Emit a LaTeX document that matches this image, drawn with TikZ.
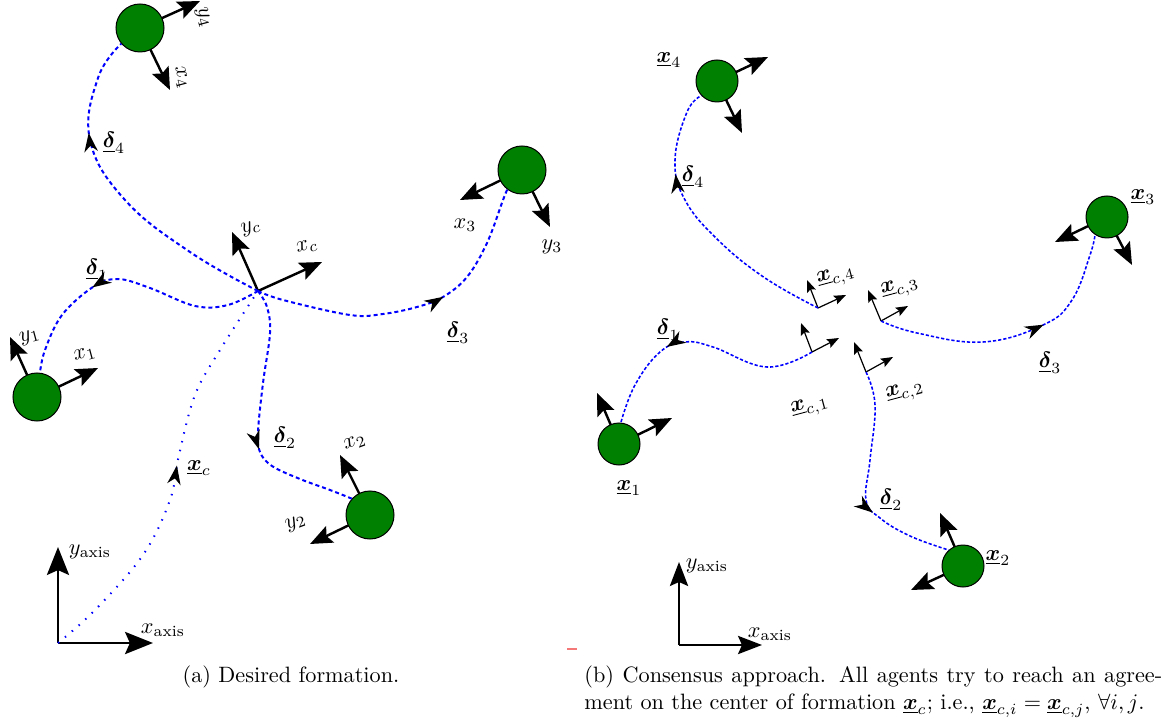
\documentclass[tikz,border=0pt]{standalone}
\usepackage{amsmath,bm}
\usetikzlibrary{arrows.meta,decorations.markings}
\definecolor{agentgreen}{RGB}{0,128,0}
\definecolor{markred}{RGB}{245,120,120}
\newcommand{\ubx}{\underline{\bm{x}}}
\newcommand{\ubd}{\underline{\bm{\delta}}}
\begin{document}
\begin{tikzpicture}[x=0.45pt,y=-0.45pt,
 agent/.style={circle,fill=agentgreen,draw=black,line width=0.45pt,minimum size=21.6pt,inner sep=0pt},
 agentb/.style={agent,minimum size=18.9pt},
 bigax/.style={line width=0.9pt,-{Stealth[length=12.6pt,width=10pt,inset=2.2pt]}},
 axb/.style={line width=0.9pt,-{Stealth[length=10.8pt,width=8.2pt,inset=1.8pt]}},
 agarr/.style={line width=1.1pt,-{Stealth[length=10pt,width=8.2pt,inset=1.8pt]}},
 smallarr/.style={line width=0.55pt,-{Stealth[length=5.4pt,width=4.2pt,inset=0.9pt]}},
 traj/.style={blue,line width=0.9pt,dash pattern=on 1.8pt off 1.35pt},
 trajb/.style={blue,line width=0.7pt,dash pattern=on 1.45pt off 0.9pt},
 centerpath/.style={blue,line width=0.9pt,dash pattern=on 0.65pt off 3.4pt},
 midarr/.style={postaction={decorate,decoration={markings,mark=at position #1 with {\arrow[black]{Stealth[length=8.5pt,width=6pt,inset=2.6pt]}}}}},
 lbl/.style={inner sep=0pt}
]
\useasboundingbox (0,0) rectangle (1167,722);

% ---------------- (a) ----------------
\coordinate (O) at (58,643);
\coordinate (Oy) at (58,547);
\coordinate (Ox) at (153,643);
\draw[bigax] (O) -- (Oy);
\draw[bigax] (O) -- (Ox);

\coordinate (C) at (258,291);
\coordinate (Cy) at (232,232);
\coordinate (Cx) at (322,262);
\draw[agarr] (C) -- (Cy);
\draw[agarr] (C) -- (Cx);

\coordinate (A4) at (140,28);
\coordinate (A4y) at (200,1);
\coordinate (A4x) at (170,90);
\coordinate (A1) at (37,397);
\coordinate (A1y) at (10,337);
\coordinate (A1x) at (98,368);
\coordinate (A2) at (370,515);
\coordinate (A2x) at (340,455);
\coordinate (A2y) at (310,544);
\coordinate (A3) at (522,170);
\coordinate (A3x) at (460,200);
\coordinate (A3y) at (550,227);
\foreach \a/\t in {A4/A4y,A4/A4x,A1/A1y,A1/A1x,A2/A2x,A2/A2y,A3/A3x,A3/A3y}
  \draw[agarr] (\a) -- (\t);
\node[agent] (a4) at (A4) {};
\node[agent] (a1) at (A1) {};
\node[agent] (a2) at (A2) {};
\node[agent] (a3) at (A3) {};

\draw[traj,midarr=0.71] plot[smooth,tension=0.7] coordinates {(C) (190,252) (125,200) (90,140) (98,78) (a4.220)};
\draw[traj,midarr=0.63] plot[smooth,tension=0.6] coordinates {(C) (228,305) (195,306) (150,288) (118,279) (93,287) (62,315) (45,350) (a1.83)};
\draw[traj,midarr=0.60] plot[smooth,tension=0.6] coordinates {(C) (283,300) (350,315) (383,314) (417,307) (443,297) (467,277) (487,243) (503,200) (a3.233)};
\draw[traj,midarr=0.60] plot[smooth,tension=0.6] coordinates {(C) (267,307) (270,333) (263,383) (258,432) (260,452) (272,466) (300,479) (330,490) (a2.138)};
\draw[centerpath,midarr=0.53] plot[smooth,tension=0.6] coordinates {(O) (95,610) (143,555) (170,500) (179,455) (195,395) (220,350) (C)};

\node[lbl,rotate=-75] (ly4) at (203,18) {$y_4$};
\node[lbl,rotate=-75] (lx4) at (181,78) {$x_4$};
\node[lbl] (ld4) at (114,143) {$\ubd_4$};
\node[lbl,rotate=15] (lyc) at (251,228) {$y_c$};
\node[lbl,rotate=15] (lxc) at (307,247) {$x_c$};
\node[lbl] (ld1) at (97,270) {$\ubd_1$};
\node[lbl,rotate=15] (ly1) at (30,337) {$y_1$};
\node[lbl,rotate=15] (lx1) at (85,355) {$x_1$};
\node[lbl] (lx3) at (465,225) {$x_3$};
\node[lbl] (ly3) at (552,247) {$y_3$};
\node[lbl] (ld3) at (458,333) {$\ubd_3$};
\node[lbl] (ld2) at (285,438) {$\ubd_2$};
\node[lbl,rotate=20] (lx2) at (355,443) {$x_2$};
\node[lbl,rotate=20] (ly2) at (296,523) {$y_2$};
\node[lbl] (lxcpath) at (199,468) {$\ubx_c$};
\node[lbl] (lya) at (90,552) {$y_{\text{axis}}$};
\node[lbl] (lxa) at (163,630) {$x_{\text{axis}}$};
\node[lbl,anchor=base] (capa) at (291,682) {(a) Desired formation.};

% stray mark
\coordinate (m1) at (567,649);
\coordinate (m2) at (577,649);
\draw[markred,line width=0.9pt] (m1) -- (m2);

% ---------------- (b) ----------------
\coordinate (P) at (679,645);
\coordinate (Py) at (679,562);
\coordinate (Px) at (762,645);
\draw[axb] (P) -- (Py);
\draw[axb] (P) -- (Px);

\coordinate (F4) at (818,308);
\coordinate (F4y) at (807,280);
\coordinate (F4x) at (846,295);
\coordinate (F3) at (881,321);
\coordinate (F3y) at (868,290);
\coordinate (F3x) at (908,306);
\coordinate (F1) at (812,352);
\coordinate (F1y) at (801,323);
\coordinate (F1x) at (839,338);
\coordinate (F2) at (866,372);
\coordinate (F2y) at (854,342);
\coordinate (F2x) at (893,357);
\foreach \f in {F1,F2,F3,F4} {
  \draw[smallarr] (\f) -- (\f y);
  \draw[smallarr] (\f) -- (\f x);
}

\coordinate (B4) at (717,81);
\coordinate (B4a) at (768,57);
\coordinate (B4b) at (742,133);
\coordinate (B1) at (619,444);
\coordinate (B1a) at (597,393);
\coordinate (B1b) at (672,418);
\coordinate (B2) at (963,566);
\coordinate (B2a) at (940,513);
\coordinate (B2b) at (911,590);
\coordinate (B3) at (1107,217);
\coordinate (B3a) at (1055,242);
\coordinate (B3b) at (1132,265);
\foreach \a/\t in {B4/B4a,B4/B4b,B1/B1a,B1/B1b,B2/B2a,B2/B2b,B3/B3a,B3/B3b}
  \draw[agarr] (\a) -- (\t);
\node[agentb] (b4) at (B4) {};
\node[agentb] (b1) at (B1) {};
\node[agentb] (b2) at (B2) {};
\node[agentb] (b3) at (B3) {};

\draw[trajb,midarr=0.70] plot[smooth,tension=0.7] coordinates {(F4) (765,278) (718,240) (685,200) (675,160) (687,112) (b4.223)};
\draw[trajb,midarr=0.61] plot[smooth,tension=0.7] coordinates {(F3) (917,333) (983,342) (1043,325) (1072,300) (1090,255) (b3.236)};
\draw[trajb,midarr=0.63] plot[smooth,tension=0.7] coordinates {(F1) (767,367) (713,347) (685,342) (660,352) (635,385) (b1.85)};
\draw[trajb,midarr=0.63] plot[smooth,tension=0.7] coordinates {(F2) (875,405) (870,460) (866,500) (880,518) (910,536) (b2.132)};

\node[lbl] (lb4) at (669,60) {$\ubx_4$};
\node[lbl] (lbd4) at (693,177) {$\ubd_4$};
\node[lbl,rotate=15] (lf4) at (836,277) {$\ubx_{c,4}$};
\node[lbl,rotate=15] (lf3) at (900,288) {$\ubx_{c,3}$};
\node[lbl] (lbd1) at (668,330) {$\ubd_1$};
\node[lbl,rotate=15] (lf1) at (810,407) {$\ubx_{c,1}$};
\node[lbl,rotate=15] (lf2) at (905,392) {$\ubx_{c,2}$};
\node[lbl] (lb1) at (629,488) {$\ubx_1$};
\node[lbl] (lbd2) at (891,500) {$\ubd_2$};
\node[lbl] (lbd3) at (1050,363) {$\ubd_3$};
\node[lbl] (lb3) at (1143,197) {$\ubx_3$};
\node[lbl] (lb2) at (998,558) {$\ubx_2$};
\node[lbl] (lyb) at (707,566) {$y_{\text{axis}}$};
\node[lbl] (lxb) at (770,634) {$x_{\text{axis}}$};
\node[lbl,anchor=base west,align=left] (capb) at (584,709)
  {\makebox[260pt][s]{(b) Consensus approach. All agents try to reach an agree-}\\
   ment on the center of formation $\ubx_c$; i.e., $\ubx_{c,i} = \ubx_{c,j}$, $\forall i,j$.};
\end{tikzpicture}
\end{document}
